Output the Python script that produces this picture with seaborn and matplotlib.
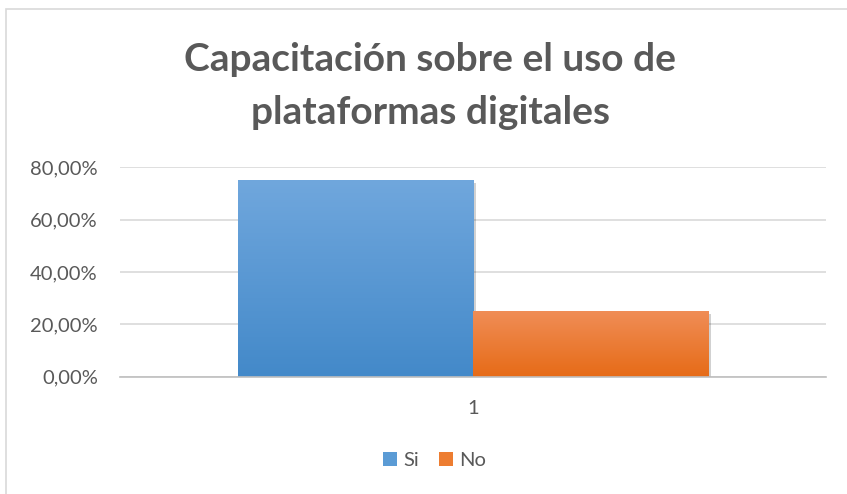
import numpy as np
import pandas as pd
import seaborn as sns
import matplotlib.pyplot as plt
from matplotlib.colors import LinearSegmentedColormap
from matplotlib.patches import Rectangle, Patch
from matplotlib.ticker import FuncFormatter
import matplotlib.patheffects as pe

categories = ['1', '1']
series = ['Si', 'No']
values = [0.75, 0.25]
colors = ['#5b9bd5', '#ed7d31']
# gradient top -> bottom for each bar
gradients = [('#70a7dd', '#4389c9'), ('#f08d56', '#e66b17')]

df = pd.DataFrame({'cat': categories, 'serie': series, 'valor': values})

sns.set_style('white')
plt.rcParams['font.family'] = ['Lato', 'DejaVu Sans']

fig = plt.figure(figsize=(8.47, 4.94), dpi=100)
ax = fig.add_axes([0.1417, 0.2375, 0.8336, 0.4238])

sns.barplot(data=df, x='cat', y='valor', hue='serie', palette=colors,
            width=0.667, ax=ax, legend=False, saturation=1)

# gradient fill clipped to each bar
for patch, (top, bot) in zip(ax.patches, gradients):
    x0, y0 = patch.get_x(), patch.get_y()
    w, h = patch.get_width(), patch.get_height()
    if h == 0:
        continue
    cmap = LinearSegmentedColormap.from_list('g', [bot, top])
    grad = np.linspace(0, 1, 256).reshape(-1, 1)
    im = ax.imshow(grad, cmap=cmap, origin='lower', aspect='auto',
                   extent=(x0, x0 + w, y0, y0 + h), zorder=3)
    im.set_clip_path(patch)
    patch.set_path_effects([pe.SimplePatchShadow(offset=(2, -2), alpha=0.18, shadow_rgbFace='#000000'),
                            pe.Normal()])
    patch.set_edgecolor('none')
    patch.set_zorder(2)

ax.set_xlim(-0.5, 0.5)
ax.set_ylim(0, 0.8)
ax.set_yticks([0, 0.2, 0.4, 0.6, 0.8])
ax.yaxis.set_major_formatter(FuncFormatter(lambda v, p: f'{v*100:.2f}%'.replace('.', ',')))
ax.grid(axis='y', color='#d9d9d9', linewidth=1.2, zorder=0)
ax.set_axisbelow(True)
for s in ['top', 'right', 'left']:
    ax.spines[s].set_visible(False)
ax.spines['bottom'].set_color('#bfbfbf')
ax.spines['bottom'].set_linewidth(1.2)
ax.spines['bottom'].set_zorder(4)
ax.tick_params(axis='y', length=0, labelsize=14.5, labelcolor='#595959', pad=16)
ax.tick_params(axis='x', which='major', length=0, labelsize=14.5, labelcolor='#595959', pad=17)
ax.set_xticks([-0.5, 0.5], minor=True)
ax.tick_params(axis='x', which='minor', length=6, color='#bfbfbf', width=1.2)
ax.set_xlabel('')
ax.set_ylabel('')

fig.text(0.508, 0.826, 'Capacitación sobre el uso de\nplataformas digitales',
         ha='center', va='center', fontsize=28, fontweight='bold',
         color='#595959', linespacing=1.6)

handles = [Patch(facecolor=c, edgecolor='none') for c in colors]
fig.legend(handles, series, loc='center', bbox_to_anchor=(0.513, 0.067), ncol=2,
           frameon=False, fontsize=14.5, labelcolor='#595959',
           handlelength=0.7, handleheight=0.7, handletextpad=0.3, columnspacing=1.0)

# outer chart frame (right and bottom edges fall outside the picture)
fig.patches.append(Rectangle((0.0065, -0.1), 1.2, 1.081, transform=fig.transFigure,
                             fill=False, edgecolor='#d9d9d9', linewidth=1.2))

fig.savefig('out.png', dpi=100)
